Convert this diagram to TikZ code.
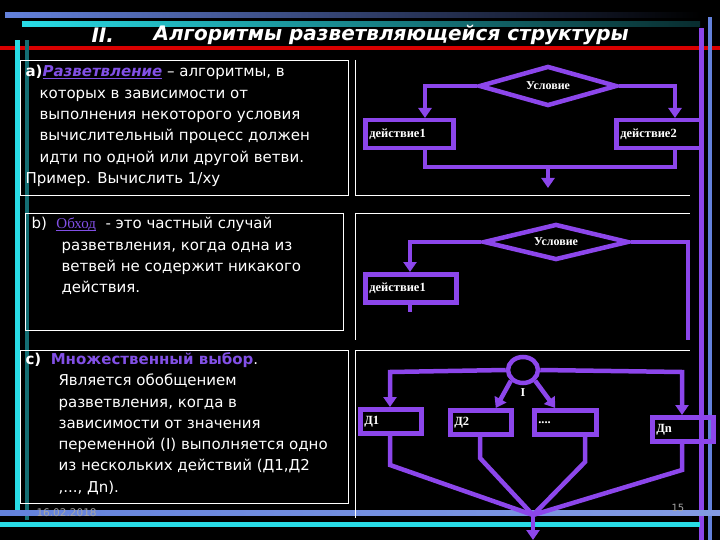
\documentclass[tikz,border=0pt]{standalone}
\usepackage{fontspec}
\setmainfont{DejaVu Sans}
\newfontfamily\serf{Liberation Serif}
\usetikzlibrary{shapes.geometric,arrows.meta}
\definecolor{pur}{RGB}{140,70,235}
\definecolor{lnk}{RGB}{130,80,230}
\definecolor{cyn}{RGB}{40,220,230}
\definecolor{blu}{RGB}{100,130,220}
\begin{document}
\begin{tikzpicture}[x=1pt,y=-1pt,
 fl/.style={draw=pur,line width=4.5pt},
 ar/.style={fl,-{Triangle[length=10pt,width=13pt]}},
 act/.style={draw=pur,line width=4.5pt,text=white,font=\serf\bfseries\fontsize{12.5}{13}\selectfont,minimum height=28pt,inner sep=4pt,anchor=north west,align=left,text width=#1},
 dia/.style={diamond,aspect=3.6,draw=pur,line width=4.5pt,text=white,font=\serf\bfseries\fontsize{12}{13}\selectfont,inner sep=1pt},
 txt/.style={text=white,font=\fontsize{15}{21.3}\selectfont,anchor=north west,align=left},
 frm/.style={draw=white,line width=0.8pt}]
\fill[black] (0,0) rectangle (720,540);
\useasboundingbox (0,0) rectangle (720,540);
% decorative bars
\shade[left color=blu,right color=black] (5,13) rectangle (700,18);
\shade[left color=cyn,right color=black!80!cyn] (22,22) rectangle (700,27);
\fill[red!85!black] (0,46) rectangle (720,50);
\fill[blu] (708,17) rectangle (712,540);
\fill[pur] (699,28) rectangle (704,540);
\fill[cyn] (15,40) rectangle (20,515);
\fill[cyn!50!black] (25,40) rectangle (29,520);
\shade[left color=blu,right color=blu!80!white] (0,510) rectangle (720,515);
\fill[cyn] (0,522) rectangle (700,527);
% title
\node[text=white,font=\bfseries\itshape\fontsize{20}{22}\selectfont,anchor=west] (t1) at (88,35) {II.};
\node[text=white,font=\bfseries\itshape\fontsize{20}{22}\selectfont,anchor=west] (t2) at (150,35) {Алгоритмы разветвляющейся структуры};
% frames
\draw[frm] (20,60) rectangle (348,195);
\draw[frm] (355,60) -- (355,195) -- (690,195);
\draw[frm] (25,213) rectangle (343,330);
\draw[frm] (355,213) -- (690,213);
\draw[frm] (355,213) -- (355,340);
\draw[frm] (20,350) rectangle (348,503);
\draw[frm] (355,350) -- (690,350);
\draw[frm] (355,350) -- (355,518);
% texts
\node[txt] (ta) at (22,62) {{\bfseries a)}\textcolor{lnk}{\bfseries\itshape\underbar{Разветвление}} – алгоритмы, в\\
\hspace*{14pt}которых в зависимости от\\
\hspace*{14pt}выполнения некоторого условия\\
\hspace*{14pt}вычислительный процесс должен\\
\hspace*{14pt}идти по одной или другой ветви.\\
Пример. Вычислить 1/xy};
\node[txt] (tb) at (28,214) {b)\ \ \textcolor{lnk}{\serf\underbar{Обход}} \ - это частный случай\\
\hspace*{30pt}разветвления, когда одна из\\
\hspace*{30pt}ветвей не содержит никакого\\
\hspace*{30pt}действия.};
\node[txt] (tc) at (22,349) {{\bfseries c)}\ \ \textcolor{lnk}{\bfseries Множественный выбор}.\\
\hspace*{33pt}Является обобщением\\
\hspace*{33pt}разветвления, когда в\\
\hspace*{33pt}зависимости от значения\\
\hspace*{33pt}переменной (I) выполняется одно\\
\hspace*{33pt}из нескольких действий (Д1,Д2\\
\hspace*{33pt},..., Дn).};
\node[text=gray!70,font=\fontsize{10.5}{12}\selectfont,anchor=west] (date) at (33,513) {16.02.2018};
\node[text=gray!70,font=\fontsize{10}{12}\selectfont,anchor=west] (pg) at (668,508) {15};
% flowchart 1
\node[dia,minimum width=138pt,minimum height=40pt] (c1) at (548,86) {Условие};
\node[act=80pt] (a1) at (363,118) {действие1};
\node[act=77pt] (a2) at (614,118) {действие2};
\coordinate (j1) at (548,167);
\coordinate (e1) at (548,188);
\draw[ar] (c1.west) -- (425,86) -- (425,118);
\draw[ar] (c1.east) -- (675,86) -- (675,118);
\draw[fl] (425,150) |- (j1) -| (675,150);
\draw[ar] (j1) -- (e1);
% flowchart 2
\node[dia,minimum width=145pt,minimum height=36pt] (c2) at (556,242) {Условие};
\node[act=83pt] (b1) at (363,272) {действие1};
\draw[ar] (c2.west) -- (410,242) -- (410,272);
\draw[fl] (c2.east) -- (688,242) -- (688,340);
\draw[fl] (410,301) -- (410,312);
% flowchart 3
\node[ellipse,draw=pur,line width=4.5pt,minimum width=30pt,minimum height=26pt] (s) at (523,370) {};
\node[text=white,font=\serf\bfseries\fontsize{12}{13}\selectfont] (il) at (523,393) {I};
\node[act=53pt,minimum height=24pt] (d1) at (358,407) {Д1};
\node[act=53pt,minimum height=24pt] (d2) at (448,408) {Д2};
\node[act=54pt,minimum height=24pt] (d3) at (532,408) {....};
\node[act=53pt,minimum height=24pt] (dn) at (650,415) {Дn};
\coordinate (m) at (533,515);
\coordinate (me) at (533,540);
\draw[ar] (s.west) -- (390,372) -- (d1.north-|390,0);
\draw[ar] (s.east) -- (682,372) -- (dn.north-|682,0);
\draw[ar] (s.south west) -- ([xshift=15pt]d2.north);
\draw[ar] (s.south east) -- ([xshift=-10pt]d3.north);
\draw[fl] (d1.south-|390,0) -- (390,465) -- (m);
\draw[fl] (d2.south-|480,0) -- (480,458) -- (m);
\draw[fl] (d3.south-|585,0) -- (585,462) -- (m);
\draw[fl] (dn.south-|682,0) -- (682,470) -- (m);
\draw[ar] (m) -- (me);
\end{tikzpicture}
\end{document}
